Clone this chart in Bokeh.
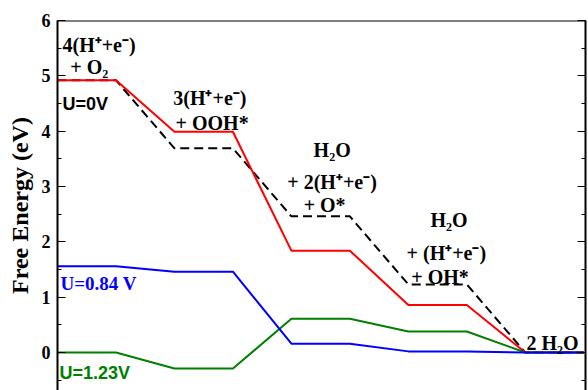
from bokeh.plotting import figure
from bokeh.models import LinearAxis, Range1d, SingleIntervalTicker, Span, CustomJSTickFormatter
from bokeh.core.properties import value
from bokeh.embed import file_html
from bokeh.resources import INLINE

# ---- data -------------------------------------------------------------
states = [0, 1, 2, 3, 4]                      # reaction steps
u0_levels = [4.92, 3.99, 1.84, 0.86, 0.0]     # U = 0 V (red)
ideal_levels = [4.92, 3.69, 2.46, 1.23, 0.0]  # ideal (dashed)
u084_levels = [1.56, 1.46, 0.16, 0.02, 0.0]   # U = 0.84 V (blue)
u123_levels = [0.0, -0.29, 0.61, 0.38, 0.0]   # U = 1.23 V (green)

label_x = [0.085, 0.22, 1.98, 2.02, 4.38, 3.93, 4.21, 6.38, 5.97, 6.05, 8.02]
label_y = [5.56, 5.16, 4.60, 4.15, 3.66, 3.08, 2.67, 2.40, 1.80, 1.37, 0.175]
label_text = ["4(H\u207a+e\u207b)", "+ O\u2082", "3(H\u207a+e\u207b)", "+ OOH*",
              "H\u2082O", "+ 2(H\u207a+e\u207b)", "+ O*",
              "H\u2082O", "+ (H\u207a+e\u207b)", "+ OH*", "2 H\u2082O"]

u_sans_x = [0.085, 0.035]
u_sans_y = [4.49, -0.37]
u_sans_text = ["U=0V", "U=1.23V"]
u_sans_color = ["black", "#008000"]
u_serif_x = [0.05]
u_serif_y = [1.24]
u_serif_text = ["U=0.84 V"]


def step_xy(levels):
    xs, ys = [], []
    for i, v in zip(states, levels):
        xs += [2 * i, 2 * i + 1]
        ys += [v, v]
    return xs, ys


p = figure(width=588, height=390, output_backend="svg", toolbar_location=None,
           x_range=Range1d(0, 9.03), y_range=Range1d(-0.687, 6.0),
           min_border_left=57, min_border_right=3, min_border_top=20,
           min_border_bottom=0, x_axis_location=None, y_axis_location="left")
p.outline_line_color = None
p.grid.visible = False
p.background_fill_color = "white"

# axes
yax = p.yaxis[0]
yax.ticker = SingleIntervalTicker(interval=1, num_minor_ticks=2)
yax.axis_line_width = 2
yax.axis_line_color = "black"
yax.major_tick_line_color = "black"
yax.minor_tick_line_color = "black"
yax.major_tick_in = 8
yax.major_tick_out = 0
yax.minor_tick_in = 4
yax.minor_tick_out = 0
yax.major_label_text_font = "Liberation Serif"
yax.major_label_text_font_style = "bold"
yax.major_label_text_font_size = "18px"
yax.major_label_text_color = "black"
yax.major_label_standoff = 7
yax.axis_label = "Free Energy (eV)"
yax.axis_label_text_font = "Liberation Serif"
yax.axis_label_text_font_style = "bold"
yax.axis_label_text_font_size = "24px"
yax.axis_label_text_color = "black"
yax.axis_label_standoff = 6

rax = LinearAxis(ticker=SingleIntervalTicker(interval=1, num_minor_ticks=2),
                 axis_line_width=2, axis_line_color="black",
                 major_tick_line_color="black", minor_tick_line_color="black",
                 major_tick_in=8, major_tick_out=0,
                 minor_tick_in=4, minor_tick_out=0, major_label_standoff=0,
                 formatter=CustomJSTickFormatter(code="return ''"))
p.add_layout(rax, "right")

p.add_layout(Span(location=6.0, dimension="width", line_color="black", line_width=2))

# lines
xs, ys = step_xy(ideal_levels)
p.line(xs, ys, line_color="black", line_width=2, line_dash="9 5")
xs, ys = step_xy(u0_levels)
p.line(xs, ys, line_color="#ff0000", line_width=2)
xs, ys = step_xy(u123_levels)
p.line(xs, ys, line_color="#008000", line_width=2)
xs, ys = step_xy(u084_levels)
p.line(xs, ys, line_color="#0000ff", line_width=2)

# labels
p.text(x=label_x, y=label_y, text=label_text, text_font=value("Liberation Serif"),
       text_font_style="bold", text_font_size="20px", text_color="black",
       text_baseline="alphabetic", text_align="left")
p.text(x=u_sans_x, y=u_sans_y, text=u_sans_text, text_font=value("Liberation Sans"),
       text_font_style="bold", text_font_size="18px", text_color=u_sans_color,
       text_baseline="alphabetic", text_align="left")
p.text(x=u_serif_x, y=u_serif_y, text=u_serif_text, text_font=value("Liberation Serif"),
       text_font_style="bold", text_font_size="19px", text_color="#0000ff",
       text_baseline="alphabetic", text_align="left")

open("out.html", "w").write(file_html(p, INLINE))
